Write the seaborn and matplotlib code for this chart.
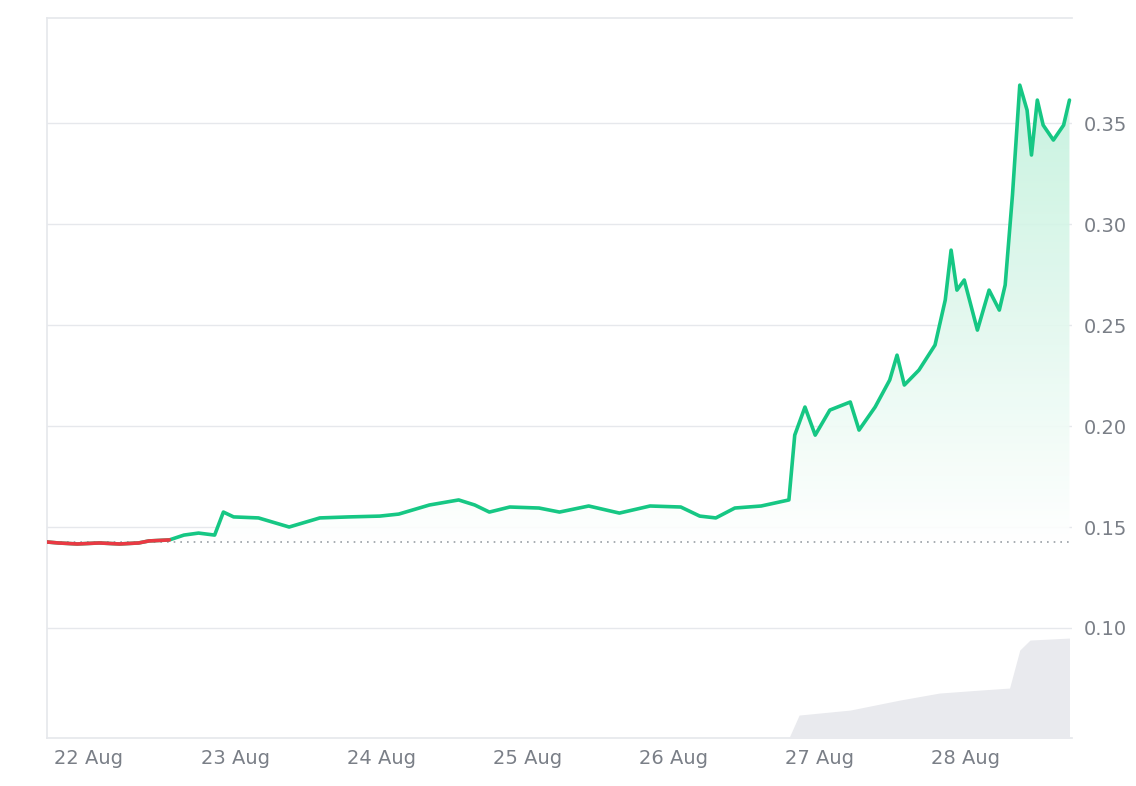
import numpy as np
import pandas as pd
import matplotlib.pyplot as plt
import seaborn as sns
from matplotlib.patches import Polygon

# day (Aug, fractional) and price
days = [21.71, 21.79, 21.92, 22.07, 22.21, 22.34, 22.41, 22.55, 22.65, 22.75, 22.86, 22.92,
        22.99, 23.16, 23.37, 23.58, 23.78, 23.99, 24.12, 24.33, 24.53, 24.64, 24.74, 24.88,
        25.08, 25.22, 25.42, 25.63, 25.84, 26.05, 26.18, 26.29, 26.42, 26.60, 26.79, 26.83,
        26.90, 26.97, 27.07, 27.21, 27.27, 27.38, 27.48, 27.53, 27.58, 27.68, 27.79, 27.86,
        27.90, 27.94, 27.99, 28.08, 28.16, 28.23, 28.27, 28.32, 28.37, 28.42, 28.45, 28.49,
        28.53, 28.60, 28.67, 28.71]
price = [0.1426, 0.1421, 0.1416, 0.1421, 0.1416, 0.1421, 0.1431, 0.1436, 0.1460, 0.1470,
         0.1460, 0.1574, 0.1550, 0.1545, 0.1500, 0.1545, 0.1550, 0.1554, 0.1564, 0.1609,
         0.1634, 0.1609, 0.1574, 0.1599, 0.1594, 0.1574, 0.1604, 0.1569, 0.1604, 0.1599,
         0.1554, 0.1545, 0.1594, 0.1604, 0.1634, 0.1955, 0.2094, 0.1955, 0.2079, 0.2119,
         0.1980, 0.2094, 0.2228, 0.2351, 0.2203, 0.2277, 0.2401, 0.2624, 0.2871, 0.2673,
         0.2723, 0.2475, 0.2673, 0.2574, 0.2698, 0.3144, 0.3688, 0.3564, 0.3342, 0.3614,
         0.3490, 0.3416, 0.3490, 0.3614]
baseline = 0.1425

vol_days = [26.79, 26.86, 27.21, 27.55, 27.82, 28.10, 28.30, 28.37, 28.44, 28.71]
volume = [0, 23, 28, 38, 45, 48, 50, 88, 98, 100]

green = "#16c784"
red = "#ea3943"
grey = "#7a7f87"

sns.set_theme(style="white")
plt.rcParams['font.family'] = ['DejaVu Sans']

fig = plt.figure(figsize=(11.36, 7.86), dpi=100)
ax = fig.add_axes([0.041, 0.061, 0.903, 0.916])
ax.set_xlim(21.71, 28.73)
ax.set_ylim(0.0455, 0.402)

# volume on a hidden twin axis
axv = ax.twinx()
axv.set_ylim(0, 720)
axv.fill_between(vol_days, volume, color="#e9eaee", lw=0)
axv.set_yticks([])
for s in axv.spines.values():
    s.set_visible(False)

df = pd.DataFrame({"day": days, "price": price})
x = np.array(days)
y = np.array(price)

# gradient fill between line and baseline
top = ax.get_ylim()[1]
grad = np.linspace(0, 1, 256).reshape(-1, 1)
img = ax.imshow(grad, extent=[x[0], x[-1], baseline, top], origin="lower", aspect="auto",
                cmap=plt.matplotlib.colors.LinearSegmentedColormap.from_list("g", ["#ffffff", "#b9efd7"]),
                zorder=1, alpha=0.9)
verts = list(zip(x, np.maximum(y, baseline))) + [(x[-1], baseline), (x[0], baseline)]
poly = Polygon(verts, closed=True, facecolor="none", edgecolor="none")
ax.add_patch(poly)
img.set_clip_path(poly)

sns.lineplot(data=df, x="day", y="price", color=green, lw=2.6, ax=ax, zorder=3)
red_y = np.where(x <= 22.55, y, np.nan)
ax.plot(x, red_y, color=red, lw=2.6, zorder=4)

ax.axhline(baseline, color="#9aa0a6", lw=1.2, ls=(0, (1, 3)), zorder=2)

ax.set_yticks([0.10, 0.15, 0.20, 0.25, 0.30, 0.35])
ax.yaxis.tick_right()
ax.set_yticklabels([f"{v:.2f}" for v in [0.10, 0.15, 0.20, 0.25, 0.30, 0.35]])
ax.set_xticks([22.0 + i for i in range(7)])
ax.set_xticklabels([f"{22 + i} Aug" for i in range(7)])
ax.tick_params(colors=grey, labelsize=14, length=0, pad=8)
ax.grid(axis="y", color="#e6e8ec", lw=1)
ax.set_xlabel("")
ax.set_ylabel("")
for name, s in ax.spines.items():
    s.set_color("#e6e8ec")
    s.set_visible(name in ("left", "top", "bottom"))

fig.savefig("out.png", dpi=100)
